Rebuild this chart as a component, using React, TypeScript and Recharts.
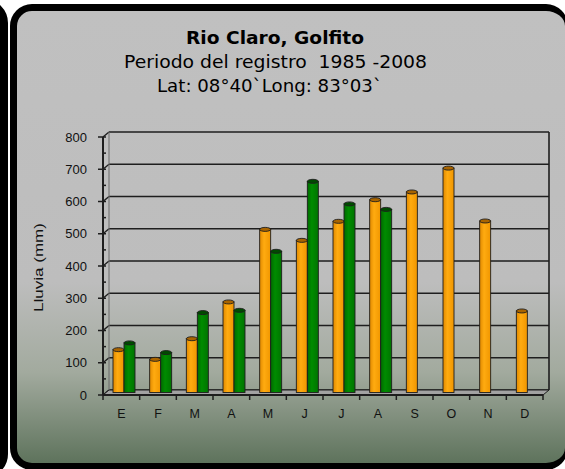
import { BarChart, Bar, XAxis, YAxis, CartesianGrid, ReferenceArea } from 'recharts'

const MESES = ['E', 'F', 'M', 'A', 'M', 'J', 'J', 'A', 'S', 'O', 'N', 'D']
const LLUVIA_A = [139, 109, 173, 287, 512, 478, 537, 604, 628, 702, 538, 259]
const LLUVIA_B: (number | null)[] = [160, 130, 254, 261, 444, 661, 591, 574, null, null, null, null]
const Y_TICKS = [0, 50, 100, 150, 200, 250, 300, 350, 400, 450, 500, 550, 600, 650, 700, 750, 800]
const GRID_VALUES = [0, 100, 200, 300, 400, 500, 600, 700, 800]

const datos = MESES.map((mes, i) => ({ mes, a: LLUVIA_A[i], b: LLUVIA_B[i] }))

// profundidad del efecto 3D
const DX = 6
const DY = -5
const BORDE = '#1e1e1e'

function LineaFondo(props: any) {
  const { x1, x2, y1 } = props
  return (
    <g>
      <line x1={x1} y1={y1} x2={x1 + DX} y2={y1 + DY} stroke={BORDE} strokeWidth={1.4} />
      <line x1={x1 + DX} y1={y1 + DY} x2={x2 + DX} y2={y1 + DY} stroke={BORDE} strokeWidth={1.6} />
    </g>
  )
}

function Caja(props: any) {
  const { x, y, width, height } = props
  const b = y + height
  const n = MESES.length
  return (
    <g>
      <polygon
        points={`${x},${b} ${x + width},${b} ${x + width + DX},${b + DY} ${x + DX},${b + DY}`}
        fill="#a2a2a2"
        stroke={BORDE}
        strokeWidth={1}
      />
      <line x1={x + DX} y1={y + DY} x2={x + DX} y2={b + DY} stroke="#6a6a6a" strokeWidth={1} />
      <line x1={x + width + DX} y1={y + DY} x2={x + width + DX} y2={b + DY} stroke={BORDE} strokeWidth={1.6} />
      {Array.from({ length: n + 1 }, (_, i) => (
        <line key={i} x1={x + (width * i) / n} y1={b} x2={x + (width * i) / n} y2={b + 5} stroke={BORDE} strokeWidth={1.5} />
      ))}
    </g>
  )
}

function TickY(props: any) {
  const { x, y, payload } = props
  const v = payload.value
  const mayor = v % 100 === 0
  return (
    <g>
      <line x1={mayor ? x - 5 : x} y1={y} x2={x + 3} y2={y} stroke={BORDE} strokeWidth={1.5} />
      {mayor && (
        <text x={x - 16} y={y} dy="0.35em" textAnchor="end" fontSize={13} fontFamily="'Liberation Sans', Arial, sans-serif" fill="#111">
          {v}
        </text>
      )}
    </g>
  )
}

function TickX(props: any) {
  const { x, y, payload } = props
  return (
    <text x={x} y={y + 23} textAnchor="middle" fontSize={12.5} fontFamily="'Liberation Sans', Arial, sans-serif" fill="#111">
      {payload.value}
    </text>
  )
}

function Barra(props: any, grad: string, tapa: string) {
  const { x, y, width, height } = props
  if (!height || height <= 0) return <g />
  const bx = x + DX / 2
  const by = y + DY / 2
  const ry = 2
  return (
    <g>
      <rect x={bx} y={by + ry} width={width} height={height - ry} fill={`url(#${grad})`} stroke={BORDE} strokeWidth={0.9} />
      <ellipse cx={bx + width / 2} cy={by + ry} rx={width / 2} ry={ry} fill={tapa} stroke={BORDE} strokeWidth={0.9} />
    </g>
  )
}

export default function App() {
  return (
    <div style={{ position: 'absolute', left: 0, top: 0, width: 565, height: 469, overflow: 'hidden', background: '#fff' }}>
      <div
        style={{
          position: 'absolute', left: -100, top: -1, width: 108, height: 479,
          boxSizing: 'border-box', border: '8px solid #000', borderRadius: 24, background: '#fff',
        }}
      />
      <div
        style={{
          position: 'absolute', left: 10, top: 4, width: 558, height: 466,
          boxSizing: 'border-box', border: '7px solid #000', borderRightWidth: 3, borderRadius: 22,
          background: 'linear-gradient(to bottom, #c0c0c0 0%, #bdbdbd 60%, #a2aa9e 80%, #5e735c 100%)',
        }}
      />
      <div style={{ position: 'absolute', left: 0, top: 0 }}>
        <BarChart width={565} height={469} data={datos} margin={{ top: 137, right: 22, left: 0, bottom: 44 }} barGap={0} barSize={11}>
          <defs>
            <linearGradient id="gNaranja" x1="0" y1="0" x2="1" y2="0">
              <stop offset="0%" stopColor="#e08900" />
              <stop offset="40%" stopColor="#ffab10" />
              <stop offset="100%" stopColor="#f09600" />
            </linearGradient>
            <linearGradient id="gVerde" x1="0" y1="0" x2="1" y2="0">
              <stop offset="0%" stopColor="#006a00" />
              <stop offset="40%" stopColor="#008c00" />
              <stop offset="100%" stopColor="#007400" />
            </linearGradient>
          </defs>
          <CartesianGrid vertical={false} horizontalValues={GRID_VALUES} horizontal={(p: any) => <LineaFondo {...p} />} />
          <ReferenceArea y1={0} y2={800} ifOverflow="visible" shape={(p: any) => <Caja {...p} />} />
          <XAxis dataKey="mes" interval={0} tickLine={false} tickSize={0} tickMargin={0} tick={<TickX />} axisLine={{ stroke: BORDE, strokeWidth: 2 }} />
          <YAxis
            domain={[0, 800]}
            ticks={Y_TICKS}
            interval={0}
            width={103}
            tickLine={false}
            tickSize={0}
            tickMargin={0}
            tick={<TickY />}
            axisLine={{ stroke: BORDE, strokeWidth: 2 }}
          />
          <Bar dataKey="a" isAnimationActive={false} shape={(p: any) => Barra(p, 'gNaranja', '#a86400')} />
          <Bar dataKey="b" isAnimationActive={false} shape={(p: any) => Barra(p, 'gVerde', '#004a00')} />
        </BarChart>
      </div>
      <svg width={565} height={469} style={{ position: 'absolute', left: 0, top: 0, pointerEvents: 'none' }}>
        <g fontFamily="'DejaVu Sans', Verdana, sans-serif" fontSize={17} fill="#000" textAnchor="middle">
          <text x={275} y={44} fontWeight="bold" textLength={178} lengthAdjust="spacingAndGlyphs">Rio Claro, Golfito</text>
          <text x={275.5} y={68} style={{ whiteSpace: 'pre' }} textLength={303} lengthAdjust="spacingAndGlyphs">
            Periodo del registro  1985 -2008
          </text>
          <text x={269.5} y={92} textLength={225} lengthAdjust="spacingAndGlyphs">Lat: 08°40`Long: 83°03`</text>
        </g>
        <text
          transform="translate(43,267.5) rotate(-90)"
          textAnchor="middle"
          fontSize={12.5}
          textLength={89}
          lengthAdjust="spacingAndGlyphs"
          fontFamily="'Liberation Sans', Arial, sans-serif"
          fill="#111"
        >
          Lluvia (mm)
        </text>
      </svg>
    </div>
  )
}
